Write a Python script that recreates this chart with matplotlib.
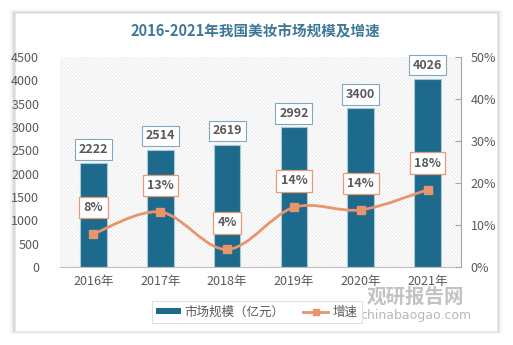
import matplotlib
matplotlib.use("Agg")
import matplotlib.pyplot as plt
import numpy as np
from matplotlib.patches import Rectangle, PathPatch
from matplotlib.path import Path
from matplotlib.lines import Line2D

plt.rcParams['font.family'] = ['Noto Sans CJK SC', 'DejaVu Sans']
plt.rcParams['hatch.linewidth'] = 0.5
plt.rcParams['hatch.color'] = '#e2e2e2'

years = ['2016年', '2017年', '2018年', '2019年', '2020年', '2021年']
market = [2222, 2514, 2619, 2992, 3400, 4026]
growth = [7.9, 13.1, 4.2, 14.2, 13.6, 18.4]
growth_labels = ['8%', '13%', '4%', '14%', '14%', '18%']
title = '2016-2021年我国美妆市场规模及增速'

bar_color = '#1d6a8c'
line_color = '#e8946c'
text_gray = '#595959'

fig = plt.figure(figsize=(5.13, 3.45), dpi=100)
fig.patch.set_facecolor('white')

# card with shadow
for i, a in enumerate([0.04, 0.05, 0.06]):
    d = (3 - i) * 0.003
    fig.add_artist(Rectangle((15/513 - d, 1 - 331/345 - d), 482/513 + 2*d, 318/345 + 2*d,
                             transform=fig.transFigure, facecolor='black', alpha=a,
                             edgecolor='none', zorder=-3))
fig.add_artist(Rectangle((15/513, 1 - 331/345), 482/513, 318/345, transform=fig.transFigure,
                         facecolor='white', edgecolor='#e6e6e6', lw=0.5, zorder=-2))

ax = fig.add_axes([60/513, 1 - 267/345, 401/513, 210/345])
ax.set_facecolor('none')
ax.add_patch(Rectangle((0, 0), 1, 1, transform=ax.transAxes, facecolor='white',
                       hatch='\\' * 10, edgecolor='#e2e2e2', lw=0, zorder=0))

x = np.arange(len(years))
bars = ax.bar(x, market, width=0.4, color=bar_color, edgecolor='#a9c8d6', linewidth=0.8, zorder=2)
ax.set_xlim(-0.5, 5.5)
ax.set_ylim(0, 4500)
ax.set_yticks(range(0, 4501, 500))
ax.set_xticks(x)
ax.set_xticklabels(years)
for s in ['top', 'right', 'left']:
    ax.spines[s].set_visible(False)
ax.spines['bottom'].set_color('#bfbfbf')
ax.tick_params(axis='y', length=0, pad=15, labelsize=9, labelcolor=text_gray)
ax.tick_params(axis='x', length=0, pad=6, labelsize=9, labelcolor=text_gray)

for xi, v in zip(x, market):
    ax.annotate(str(v), (xi, v), xytext=(0, 10), textcoords='offset points', ha='center', va='center',
                fontsize=9, fontweight='bold', color=text_gray, zorder=6,
                bbox=dict(boxstyle='square,pad=0.3', facecolor='white', edgecolor='#7fa9bf', lw=0.8))

ax2 = ax.twinx()
ax2.set_ylim(0, 50)
ax2.set_yticks(range(0, 51, 10))
ax2.set_yticklabels([f'{t}%' for t in range(0, 51, 10)])
for s in ['top', 'left', 'bottom']:
    ax2.spines[s].set_visible(False)
ax2.spines['right'].set_color('#a6a6a6')
ax2.tick_params(axis='y', direction='in', length=4, color='#a6a6a6', pad=7, labelsize=9, labelcolor=text_gray)

# smooth curve through points (Catmull-Rom as cubic Bezier)
pts = np.column_stack([x, growth]).astype(float)
verts = [tuple(pts[0])]
codes = [Path.MOVETO]
n = len(pts)
for i in range(n - 1):
    p0 = pts[i - 1] if i > 0 else pts[i]
    p1 = pts[i]
    p2 = pts[i + 1]
    p3 = pts[i + 2] if i + 2 < n else pts[i + 1]
    c1 = p1 + (p2 - p0) / 6
    c2 = p2 - (p3 - p1) / 6
    verts += [tuple(c1), tuple(c2), tuple(p2)]
    codes += [Path.CURVE4] * 3
ax2.add_patch(PathPatch(Path(verts, codes), facecolor='none', edgecolor=line_color, lw=2, zorder=3))
ax2.plot(x, growth, linestyle='none', marker='s', markersize=6, color=line_color, zorder=4)
for xi, g, lab in zip(x, growth, growth_labels):
    ax2.annotate(lab, (xi, g), xytext=(0, 19), textcoords='offset points', ha='center', va='center',
                 fontsize=9, fontweight='bold', color=text_gray, zorder=6,
                 bbox=dict(boxstyle='square,pad=0.35', facecolor='white', edgecolor='#e59a78', lw=0.9))

fig.text(0.497, 1 - 31/345, title, ha='center', va='center', fontsize=10.5, fontweight='bold',
         color='#3d7899')

handles = [Rectangle((0, 0), 1, 1, facecolor=bar_color),
           Line2D([0], [0], color=line_color, lw=2, marker='s', markersize=5)]
leg = fig.legend(handles, ['市场规模（亿元）', '增速'], loc='center', bbox_to_anchor=(0.5, 1 - 312/345),
                 ncol=2, frameon=True, fontsize=9, handlelength=2.0, handleheight=0.35,
                 handletextpad=0.3, columnspacing=1.5, borderpad=0.35, fancybox=False,
                 labelcolor=text_gray)
leg.get_frame().set_edgecolor('#d9d9d9')
leg.get_frame().set_linewidth(0.8)

fig.text(0.81, 1 - 297/345, '观研报告网', ha='center', va='center', fontsize=14, fontweight='bold',
         color='#9a9a9a', alpha=0.6)
fig.text(0.81, 1 - 315/345, 'chinabaogao.com', ha='center', va='center', fontsize=9,
         color='#9a9a9a', alpha=0.7, family='DejaVu Sans')

fig.savefig('out.png', dpi=100)
